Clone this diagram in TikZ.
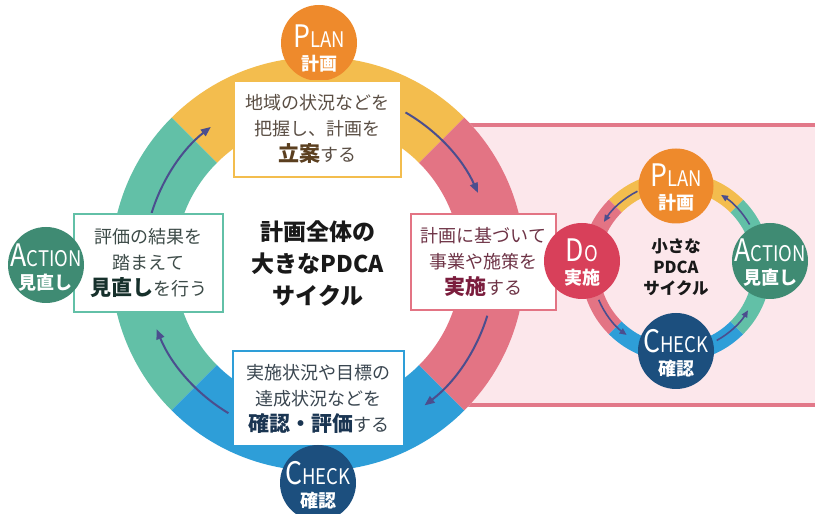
\documentclass[tikz,border=0pt]{standalone}
\usepackage{fontspec}
\setmainfont{Noto Sans CJK JP}
\newfontfamily\labfont[FakeStretch=0.86]{Noto Sans CJK JP}
\usetikzlibrary{arrows.meta}
\definecolor{ylw}{HTML}{F3BD4E}
\definecolor{pnk}{HTML}{E37484}
\definecolor{blu}{HTML}{2E9ED8}
\definecolor{tea}{HTML}{62C0A7}
\definecolor{planc}{HTML}{EE8A2C}
\definecolor{doc}{HTML}{D8405A}
\definecolor{chkc}{HTML}{1C4F7E}
\definecolor{actc}{HTML}{3F8B73}
\definecolor{arrc}{HTML}{4B4E8E}
\definecolor{pinkbg}{HTML}{FCE7EB}
\definecolor{pinkln}{HTML}{E27889}
\definecolor{tplan}{HTML}{5A4E44}
\definecolor{bplan}{HTML}{5B3F1F}
\definecolor{tact}{HTML}{3D4B48}
\definecolor{bact}{HTML}{16302B}
\definecolor{tdo}{HTML}{6E3346}
\definecolor{bdo}{HTML}{7B1D3D}
\definecolor{tchk}{HTML}{3A4650}
\definecolor{bchk}{HTML}{1A3552}
\newcommand\ringseg[6]{\fill[#6] ([shift={(#4:#3)}]#1) arc[start angle=#4,end angle=#5,radius=#3] -- ([shift={(#5:#2)}]#1) arc[start angle=#5,end angle=#4,radius=#2] -- cycle;}
\newcommand\cyclab[3]{{\labfont\fontsize{31}{31}\selectfont #1\fontsize{21.5}{21.5}\selectfont #2}\\{\rmfamily\bfseries\fontsize{18}{18}\selectfont #3}}
\newcommand\kw[2]{{\bfseries\fontsize{21}{26}\selectfont\color{#1}#2}}
\begin{document}
\begin{tikzpicture}[x=1pt,y=1pt,
  cycnode/.style={circle, minimum size=76pt, inner sep=0pt},
  cyctext/.style={align=center, text=white, font=\fontsize{17}{23}\selectfont, inner sep=0pt},
  boxnode/.style={draw, line width=2.8pt, fill=white, inner sep=0pt},
  boxtext/.style={align=center, font=\fontsize{18}{26}\selectfont, inner sep=0pt},
  bigarr/.style={draw=arrc, line width=2pt, -{Triangle[length=10pt,width=8pt]}},
  smallarr/.style={draw=arrc, line width=1.6pt, -{Triangle[length=7pt,width=6pt]}}]
\useasboundingbox (0,0) rectangle (815,514);
\clip (0,0) rectangle (815,514);
\fill[white] (0,0) rectangle (815,514);
\coordinate (C) at (318,250);
\coordinate (S) at (676,247);
% pink panel
\node[draw=pinkln, fill=pinkbg, line width=4pt, minimum width=400pt, minimum height=280pt, anchor=west, inner sep=0pt] (panel) at (440,249) {};
% big ring
\fill[white] (C) circle[radius=207];
\ringseg{C}{143}{207}{45}{135}{ylw}
\ringseg{C}{143}{207}{135}{225}{tea}
\ringseg{C}{143}{207}{225}{315}{blu}
\ringseg{C}{143}{207}{-45}{45}{pnk}
% small ring
\ringseg{S}{77}{95}{45}{135}{ylw}
\ringseg{S}{77}{95}{135}{225}{pnk}
\ringseg{S}{77}{95}{225}{315}{blu}
\ringseg{S}{77}{95}{-45}{45}{tea}
% big arrows
\draw[bigarr] ([shift={(60:175)}]C) arc[start angle=60,end angle=24,radius=175];
\draw[bigarr] ([shift={(-17:177)}]C) arc[start angle=-17,end angle=-53,radius=177];
\draw[bigarr] ([shift={(-121:174)}]C) arc[start angle=-121,end angle=-158,radius=174];
\draw[bigarr] ([shift={(163:174)}]C) arc[start angle=163,end angle=128,radius=174];
% small arrows
\draw[smallarr] ([shift={(117:85)}]S) arc[start angle=117,end angle=148,radius=85];
\draw[smallarr] ([shift={(203:84)}]S) arc[start angle=203,end angle=234,radius=84];
\draw[smallarr] ([shift={(-61:84)}]S) arc[start angle=-61,end angle=-31,radius=84];
\draw[smallarr] ([shift={(30:85)}]S) arc[start angle=30,end angle=58,radius=85];
% big circles (behind boxes where needed)
\node[cycnode, fill=planc] (P) at (319,471) {};
% boxes
\node[boxnode, draw=ylw, minimum width=167pt, minimum height=96pt] (pb) at (317.5,385) {};
\node[boxnode, draw=tea, minimum width=149pt, minimum height=98pt] (ab) at (148.5,251) {};
\node[boxnode, draw=pnk, minimum width=145pt, minimum height=96pt] (db) at (483.5,252) {};
\node[boxnode, draw=blu, minimum width=171pt, minimum height=95pt] (cb) at (318.5,115.5) {};
\node[boxtext, text=tplan] (pbt) at (pb) {地域の状況などを\\把握し、計画を\\\kw{bplan}{立案}する};
\node[boxtext, text=tact] (abt) at (ab) {評価の結果を\\踏まえて\\\kw{bact}{見直し}を行う};
\node[boxtext, text=tdo] (dbt) at (db) {計画に基づいて\\事業や施策を\\\kw{bdo}{実施}する};
\node[boxtext, text=tchk] (cbt) at (cb) {実施状況や目標の\\達成状況などを\\\kw{bchk}{確認・評価}する};
% other circles
\node[cycnode, fill=chkc] (K) at (318,31) {};
\node[cycnode, fill=actc] (A) at (46,249) {};
\node[cycnode, fill=doc] (D) at (582,253) {};
\node[cycnode, fill=planc, minimum size=75pt] (p2) at (676,328) {};
\node[cycnode, fill=chkc] (k2) at (676,163) {};
\node[cycnode, fill=actc] (a2) at (770,253) {};
% circle labels
\node[cyctext] (Pt) at ([yshift=-5]P.center) {\cyclab{P}{LAN}{計画}};
\node[cyctext] (Kt) at ([yshift=-2]K.center) {\cyclab{C}{HECK}{確認}};
\node[cyctext] (At) at ([yshift=-3]A.center) {\cyclab{A}{CTION}{見直し}};
\node[cyctext] (Dt) at ([yshift=-2]D.center) {\cyclab{D}{O}{実施}};
\node[cyctext] (p2t) at ([yshift=-1]p2.center) {\cyclab{P}{LAN}{計画}};
\node[cyctext] (k2t) at ([yshift=-2]k2.center) {\cyclab{C}{HECK}{確認}};
\node[cyctext] (a2t) at ([yshift=-2]a2.center) {\cyclab{A}{CTION}{見直し}};
% centre texts
\node[align=center, font=\bfseries\fontsize{23}{32}\selectfont, text=black!90] (ct) at (C) {計画全体の\\大きなPDCA\\サイクル};
\node[align=center, font=\bfseries\fontsize{16.5}{21}\selectfont, text=black!90] (st) at (S) {小さな\\PDCA\\サイクル};
\end{tikzpicture}
\end{document}
